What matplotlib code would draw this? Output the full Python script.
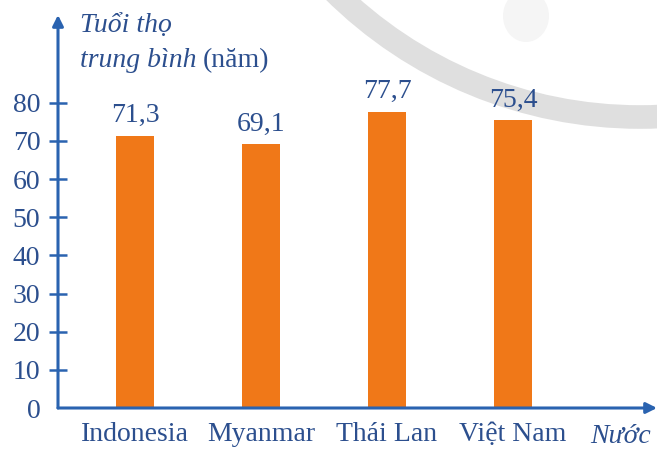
import matplotlib
matplotlib.use("Agg")
import matplotlib.pyplot as plt
from matplotlib.patches import Arc, Ellipse

countries = ["Indonesia", "Myanmar", "Thái Lan", "Việt Nam"]
life_expectancy = [71.3, 69.1, 77.7, 75.4]
yticks = [0, 10, 20, 30, 40, 50, 60, 70, 80]

AXIS_BLUE = "#2A63B0"
TEXT_BLUE = "#2C4F8E"
ORANGE = "#F07818"
SERIF = ["Liberation Serif", "DejaVu Serif"]
FS = 20

W, H = 657, 450
fig = plt.figure(figsize=(W / 100, H / 100), dpi=100)
fig.patch.set_facecolor("white")

# decorative watermark arc
deco = fig.add_axes([0, 0, 1, 1], zorder=0)
deco.set_xlim(0, W)
deco.set_ylim(H, 0)
deco.axis("off")
deco.add_patch(Arc((640, -318), 870, 870, theta1=0, theta2=180,
                   color="#DFDFDF", lw=17))
deco.add_patch(Ellipse((526, 16), 46, 52, color="#F5F5F5", lw=0))

ax_left, ax_right = 58, 657
ax_bottom, ax_top = 408, 15
ax = fig.add_axes([ax_left / W, (H - ax_bottom) / H,
                   (ax_right - ax_left) / W, (ax_bottom - ax_top) / H], zorder=1)
ax.patch.set_alpha(0)

x = list(range(len(countries)))
ax.bar(x, life_expectancy, width=0.3, color=ORANGE, zorder=2)

px_per_unit_x = 126.0
x0 = -(135 - ax_left) / px_per_unit_x
ax.set_xlim(x0, x0 + (ax_right - ax_left) / px_per_unit_x)
ymax = (ax_bottom - ax_top) / 3.815
ax.set_ylim(0, ymax)

for s in ax.spines.values():
    s.set_visible(False)

# axes with arrows
for end in [(0, 1), (1, 0)]:
    ax.annotate("", xy=end, xytext=(0, 0), xycoords="axes fraction",
                arrowprops=dict(arrowstyle="-|>", color=AXIS_BLUE, lw=2.2,
                                mutation_scale=16, shrinkA=0, shrinkB=0),
                annotation_clip=False)

ax.set_yticks(yticks)
ax.set_yticklabels([str(v) for v in yticks], fontfamily=SERIF,
                   fontsize=FS, color=TEXT_BLUE)
ax.tick_params(axis="y", direction="inout", length=13.5, width=1.8,
               color=AXIS_BLUE, pad=6)
ax.yaxis.get_major_ticks()[0].tick1line.set_visible(False)

ax.set_xticks(x)
ax.set_xticklabels(countries, fontfamily=SERIF, fontsize=FS, color=TEXT_BLUE)
ax.tick_params(axis="x", length=0, pad=10)

for xi, v in zip(x, life_expectancy):
    ax.annotate(f"{v:.1f}".replace(".", ","), xy=(xi, v), xytext=(0, 10),
                textcoords="offset points", ha="center", va="baseline",
                fontfamily=SERIF, fontsize=FS, color=TEXT_BLUE)

# axis titles
fig.text(80 / W, 1 - 32 / H, "Tuổi thọ", fontfamily=SERIF, style="italic",
         fontsize=FS, color=TEXT_BLUE, ha="left", va="baseline")
t = fig.text(80 / W, 1 - 67 / H, "trung bình", fontfamily=SERIF,
             style="italic", fontsize=FS, color=TEXT_BLUE, ha="left",
             va="baseline")
fig.canvas.draw()
bb = t.get_window_extent()
fig.text((bb.x1 + 6) / W, 1 - 67 / H, "(năm)", fontfamily=SERIF,
         fontsize=FS, color=TEXT_BLUE, ha="left", va="baseline")
fig.text(651 / W, 1 - 443 / H, "Nước", fontfamily=SERIF, style="italic",
         fontsize=FS, color=TEXT_BLUE, ha="right", va="baseline")

fig.savefig("out.png", dpi=100, facecolor="white")
